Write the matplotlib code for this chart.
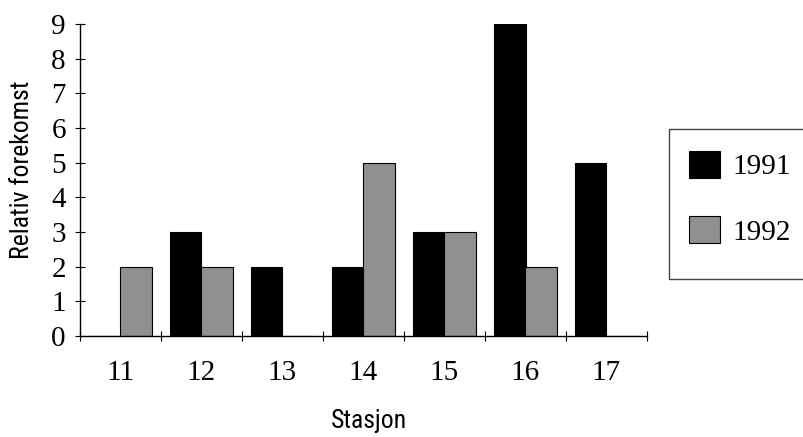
import matplotlib
matplotlib.use("Agg")
import matplotlib.pyplot as plt
from matplotlib import font_manager
from matplotlib.patches import Rectangle
import numpy as np
from matplotlib.ticker import FixedLocator

stations = ["11", "12", "13", "14", "15", "16", "17"]
years = ["1991", "1992"]
values_1991 = [0, 3, 2, 2, 3, 9, 5]
values_1992 = [2, 2, 0, 5, 3, 2, 0]
y_ticks = list(range(0, 10))

serif = ["Liberation Serif", "DejaVu Serif"]

# pick a narrow sans face for the axis titles if one is installed
names = {f.name for f in font_manager.fontManager.ttflist}
narrow_face = None
for cand in ("Liberation Sans Narrow", "Arial Narrow", "Roboto Condensed",
             "Open Sans Condensed", "DejaVu Sans Condensed"):
    if cand in names:
        narrow_face = cand
        break
if narrow_face:
    title_font = {"family": [narrow_face, "Liberation Sans"], "size": 18.5}
else:
    title_font = {"family": ["Liberation Sans", "DejaVu Sans"], "size": 16.5}

W, H = 804, 437
fig = plt.figure(figsize=(W / 100, H / 100), dpi=100)
ax = fig.add_axes([80 / W, 1 - 336 / H, (647 - 80) / W, (336 - 24) / H])

x = np.arange(len(stations))
bw = 0.395
ax.bar(x - bw, values_1991, width=bw, align="edge", color="black",
       edgecolor="black", linewidth=0.8, label=years[0])
ax.bar(x, values_1992, width=bw, align="edge", color="#909090",
       edgecolor="black", linewidth=0.8, label=years[1])

ax.set_xlim(-0.5, len(stations) - 0.5)
ax.set_ylim(0, 9)

for s in ("top", "right"):
    ax.spines[s].set_visible(False)
for s in ("left", "bottom"):
    ax.spines[s].set_linewidth(1.0)

# y axis: cross ticks at each integer
ax.set_yticks(y_ticks)
ax.tick_params(axis="y", direction="inout", length=6.5, width=0.8, pad=7)
for lab in ax.get_yticklabels():
    lab.set_fontfamily(serif)
    lab.set_fontsize(21)

# x axis: labels at station centres, cross ticks at the group boundaries
ax.set_xticks(x)
ax.set_xticklabels(stations, fontfamily=serif, fontsize=21)
ax.tick_params(axis="x", which="major", length=0, pad=17)
ax.xaxis.set_minor_locator(FixedLocator(np.arange(-0.5, len(stations), 1.0)))
ax.tick_params(axis="x", which="minor", direction="inout", length=6.5, width=0.8)

fig.text(22 / W, 1 - 170 / H, "Relativ forekomst", rotation=90,
         ha="center", va="center", fontdict=title_font)
fig.text(369 / W, 1 - 428 / H, "Stasjon", ha="center", va="baseline",
         fontdict=title_font)

# legend entries without their own frame; the box is drawn separately
leg = fig.legend(loc="upper left", bbox_to_anchor=(689 / W, 1 - 151 / H),
                 bbox_transform=fig.transFigure,
                 prop={"family": serif, "size": 21},
                 handlelength=1.05, handleheight=1.05, handletextpad=0.45,
                 borderpad=0, labelspacing=1.22, borderaxespad=0,
                 frameon=False)
fig.patches.append(Rectangle((669 / W, 1 - 279 / H), 150 / W, 150 / H,
                             transform=fig.transFigure, fill=False,
                             edgecolor="#444444", linewidth=1.0,
                             figure=fig))

fig.savefig("out.png", dpi=100)
